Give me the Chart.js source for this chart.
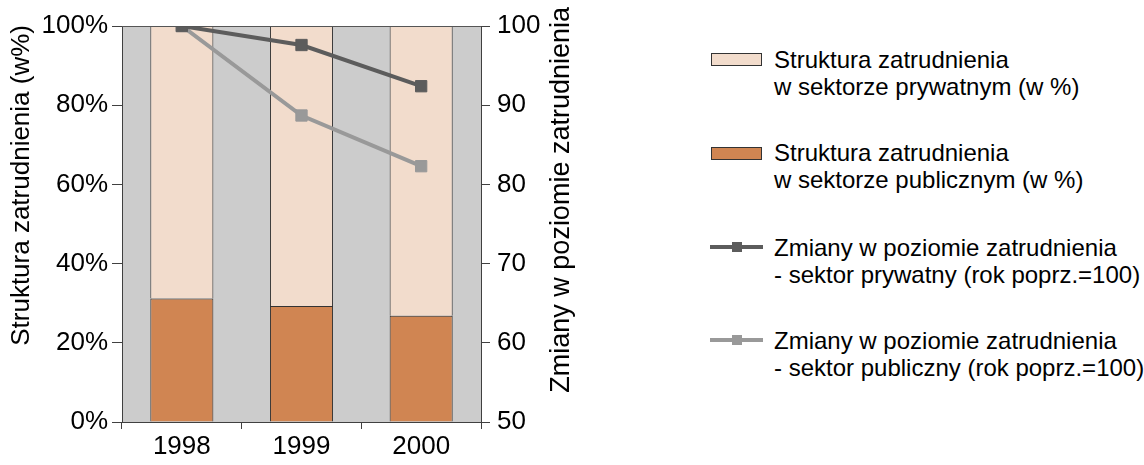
<!DOCTYPE html>
<html lang="pl">
<head>
<meta charset="UTF-8">
<title>Struktura i zmiany zatrudnienia</title>
<script src="https://cdn.jsdelivr.net/npm/chart.js"></script>
<style>
    body {
        margin: 0;
        width: 1144px;
        height: 465px;
        background: #fff;
        font-family: "Liberation Sans", Arial, sans-serif;
        position: relative;
        overflow: hidden;
    }
    #wrap {
        position: absolute;
        left: 0;
        top: 0;
        width: 600px;
        height: 465px;
    }
    .item {
        position: absolute;
        left: 774px;
        font-size: 24px;
        line-height: 27px;
        color: #000;
        white-space: nowrap;
    }
    .box {
        position: absolute;
        left: 711px;
        width: 51px;
        height: 13px;
        box-sizing: border-box;
        border: 1px solid #333;
    }
    .ln {
        position: absolute;
        left: 710px;
        width: 53px;
        height: 4px;
    }
    .mk {
        position: absolute;
        left: 732px;
        width: 10px;
        height: 10px;
    }
</style>
</head>
<body>
<div id="wrap"><canvas id="chart"></canvas></div>

<!-- legenda -->
<div class="box" style="top:53px;background:#f2dccc"></div>
<div class="item" style="top:46px">Struktura zatrudnienia<br>w sektorze prywatnym (w %)</div>

<div class="box" style="top:147px;background:#d08552"></div>
<div class="item" style="top:139px">Struktura zatrudnienia<br>w sektorze publicznym (w %)</div>

<div class="ln" style="top:245px;background:#5c5c5c"></div>
<div class="mk" style="top:242px;background:#5c5c5c"></div>
<div class="item" style="top:234px">Zmiany w poziomie zatrudnienia<br>- sektor prywatny (rok poprz.=100)</div>

<div class="ln" style="top:338px;background:#999"></div>
<div class="mk" style="top:335px;background:#999"></div>
<div class="item" style="top:327px">Zmiany w poziomie zatrudnienia<br>- sektor publiczny (rok poprz.=100)</div>

<script>
// dane
const years = ['1998', '1999', '2000'];
const publicShare = [31.2, 29.3, 26.8];    // % zatrudnionych w sektorze publicznym
const privateShare = [68.8, 70.7, 73.2];   // % zatrudnionych w sektorze prywatnym
const privateIndex = [100, 97.6, 92.4];    // rok poprz. = 100
const publicIndex = [100, 88.7, 82.3];

const leftTitle = 'Struktura zatrudnienia (w%)';
const rightTitle = 'Zmiany w poziomie zatrudnienia';

const FONT = '"Liberation Sans", Arial, sans-serif';
const axisColor = '#404040';

// szare tlo pola wykresu, gorna krawedz i tytuly osi (czytane od dolu)
const plotDecor = {
    id: 'plotDecor',
    beforeDraw(chart) {
        const { ctx, chartArea: a } = chart;
        ctx.save();
        ctx.fillStyle = '#cccccc';
        ctx.fillRect(a.left, a.top, a.right - a.left, a.bottom - a.top);
        ctx.restore();
    },
    afterDraw(chart) {
        const { ctx, chartArea: a } = chart;
        ctx.save();
        ctx.strokeStyle = '#555';
        ctx.lineWidth = 1;
        ctx.beginPath();
        ctx.moveTo(a.left, a.top + 0.5);
        ctx.lineTo(a.right, a.top + 0.5);
        ctx.stroke();
        ctx.restore();

        ctx.save();
        ctx.fillStyle = '#000';
        ctx.textAlign = 'right';
        ctx.textBaseline = 'middle';
        ctx.font = '26px ' + FONT;
        ctx.translate(22, a.top - 1);
        ctx.rotate(-Math.PI / 2);
        ctx.fillText(leftTitle, 0, 0);
        ctx.restore();

        ctx.save();
        ctx.fillStyle = '#000';
        ctx.textAlign = 'right';
        ctx.textBaseline = 'middle';
        ctx.font = '27px ' + FONT;
        ctx.translate(562, a.top - 19);
        ctx.rotate(-Math.PI / 2);
        ctx.fillText(rightTitle, 0, 0);
        ctx.restore();
    }
};

const tickFont = { family: FONT, size: 26 };

new Chart(document.getElementById('chart'), {
    type: 'bar',
    data: {
        labels: years,
        datasets: [
            {
                type: 'line',
                label: 'Zmiany - sektor prywatny',
                data: privateIndex,
                yAxisID: 'y1',
                borderColor: '#5c5c5c',
                backgroundColor: '#5c5c5c',
                borderWidth: 4,
                pointStyle: 'rect',
                pointRadius: 8,
                pointBorderWidth: 1,
                order: 0
            },
            {
                type: 'line',
                label: 'Zmiany - sektor publiczny',
                data: publicIndex,
                yAxisID: 'y1',
                borderColor: '#999999',
                backgroundColor: '#999999',
                borderWidth: 4,
                pointStyle: 'rect',
                pointRadius: 8,
                pointBorderWidth: 1,
                order: 1
            },
            {
                label: 'Sektor publiczny (w %)',
                data: publicShare,
                backgroundColor: '#d08552',
                borderColor: '#333',
                borderWidth: 1,
                yAxisID: 'y',
                barPercentage: 0.527,
                categoryPercentage: 1,
                order: 2
            },
            {
                label: 'Sektor prywatny (w %)',
                data: privateShare,
                backgroundColor: '#f2dccc',
                borderColor: '#333',
                borderWidth: 1,
                yAxisID: 'y',
                barPercentage: 0.527,
                categoryPercentage: 1,
                order: 2
            }
        ]
    },
    options: {
        responsive: true,
        maintainAspectRatio: false,
        animation: false,
        layout: { padding: { top: 26, left: 0, right: 0, bottom: 0 } },
        plugins: {
            legend: { display: false },
            tooltip: { enabled: false }
        },
        scales: {
            x: {
                stacked: true,
                offset: true,
                grid: { offset: true, drawOnChartArea: false, tickLength: 7, color: axisColor },
                border: { color: axisColor },
                ticks: { font: tickFont, color: '#000', padding: 2, maxRotation: 0 },
                afterFit(scale) { scale.height = 43; }
            },
            y: {
                stacked: true,
                position: 'left',
                min: 0,
                max: 100,
                grid: { drawOnChartArea: false, tickLength: 10, color: axisColor },
                border: { color: axisColor },
                ticks: {
                    stepSize: 20,
                    font: tickFont,
                    color: '#000',
                    padding: 4,
                    callback: v => v + '%'
                },
                afterFit(scale) { scale.width = 122; }
            },
            y1: {
                position: 'right',
                min: 50,
                max: 100,
                grid: { drawOnChartArea: false, tickLength: 9, color: axisColor },
                border: { color: axisColor },
                ticks: { stepSize: 10, font: tickFont, color: '#000', padding: 7 },
                afterFit(scale) { scale.width = 119; }
            }
        }
    },
    plugins: [plotDecor]
});
</script>
</body>
</html>
